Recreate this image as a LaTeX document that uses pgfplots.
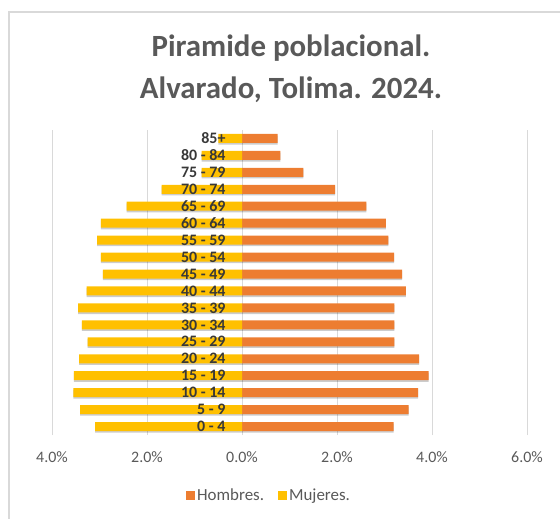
\documentclass[border=0pt]{standalone}
\usepackage{fontspec}
\setmainfont{Carlito}
\usepackage{pgfplots}
\usepackage{pgfplotstable}
\pgfplotsset{compat=1.18}
\definecolor{hom}{HTML}{ED7D31}
\definecolor{muj}{HTML}{FFC000}
\definecolor{txt}{HTML}{595959}
\definecolor{grd}{HTML}{D9D9D9}
\pgfplotstableread{
idx hom muj
0 3.19 -3.09
1 3.51 -3.41
2 3.71 -3.55
3 3.93 -3.54
4 3.73 -3.43
5 3.21 -3.25
6 3.21 -3.37
7 3.21 -3.45
8 3.45 -3.27
9 3.37 -2.93
10 3.20 -2.97
11 3.08 -3.05
12 3.03 -2.97
13 2.62 -2.43
14 1.96 -1.69
15 1.29 -0.85
16 0.81 -0.85
17 0.75 -0.50
}\data
\pgfplotstableread[col sep=comma]{
idx,pos,lab
0,0,0 - 4
1,0,5 - 9
2,0,10 - 14
3,0,15 - 19
4,0,20 - 24
5,0,25 - 29
6,0,30 - 34
7,0,35 - 39
8,0,40 - 44
9,0,45 - 49
10,0,50 - 54
11,0,55 - 59
12,0,60 - 64
13,0,65 - 69
14,0,70 - 74
15,0,75 - 79
16,0,80 - 84
17,0,85+
}\labs
\begin{document}
\begin{tikzpicture}
\path[use as bounding box] (-52bp,-84bp) rectangle (508bp,435bp);
\draw[grd, line width=1.2bp] (-43bp,-84bp) -- (-43bp,423bp) -- (508bp,423bp);
\begin{axis}[
  scale only axis, width=475bp, height=305bp,
  xmin=-4, xmax=6, ymin=-0.5, ymax=17.5,
  xtick={-4,-2,0,2,4,6},
  xticklabels={4.0\%,2.0\%,0.0\%,2.0\%,4.0\%,6.0\%},
  ytick=\empty,
  xmajorgrids, grid style={grd, line width=0.8bp},
  axis line style={draw=none}, major tick style={draw=none},
  xticklabel style={font=\fontsize{16}{18}\selectfont, text=txt, yshift=-13bp},
  bar width=9bp,
  legend style={at={(0.457,-0.197)}, anchor=center, draw=none, legend columns=2,
    font=\fontsize{17}{19}\selectfont, text=txt,
    /tikz/every even column/.append style={column sep=12bp}},
]
\addplot[xbar, draw=none, fill=black, fill opacity=0.2, bar shift=-1.6bp, forget plot]
  table[x=hom, y=idx] {\data};
\addplot[xbar, draw=none, fill=black, fill opacity=0.2, bar shift=-1.6bp, forget plot]
  table[x=muj, y=idx] {\data};
\addplot[xbar, draw=none, fill=hom, bar shift=0pt,
  legend image code/.code={\fill[hom] (0bp,-4.5bp) rectangle (9bp,4.5bp);}]
  table[x=hom, y=idx] {\data};
\addlegendentry{Hombres.}
\addplot[xbar, draw=none, fill=muj, bar shift=0pt,
  legend image code/.code={\fill[muj] (0bp,-4.5bp) rectangle (9bp,4.5bp);}]
  table[x=muj, y=idx] {\data};
\addlegendentry{Mujeres.}
\addplot[only marks, mark=none, forget plot, point meta=explicit symbolic,
  nodes near coords,
  every node near coord/.style={anchor=east, xshift=-13bp, yshift=0bp,
    font=\bfseries\fontsize{16}{18}\selectfont, text=black!78}]
  table[x=pos, y=idx, meta=lab] {\labs};
\end{axis}
\node[font=\bfseries\fontsize{31}{42}\selectfont, text=txt, align=center] at (239bp,366bp) {Piramide poblacional.\\Alvarado, Tolima. 2024.};
\end{tikzpicture}
\end{document}
